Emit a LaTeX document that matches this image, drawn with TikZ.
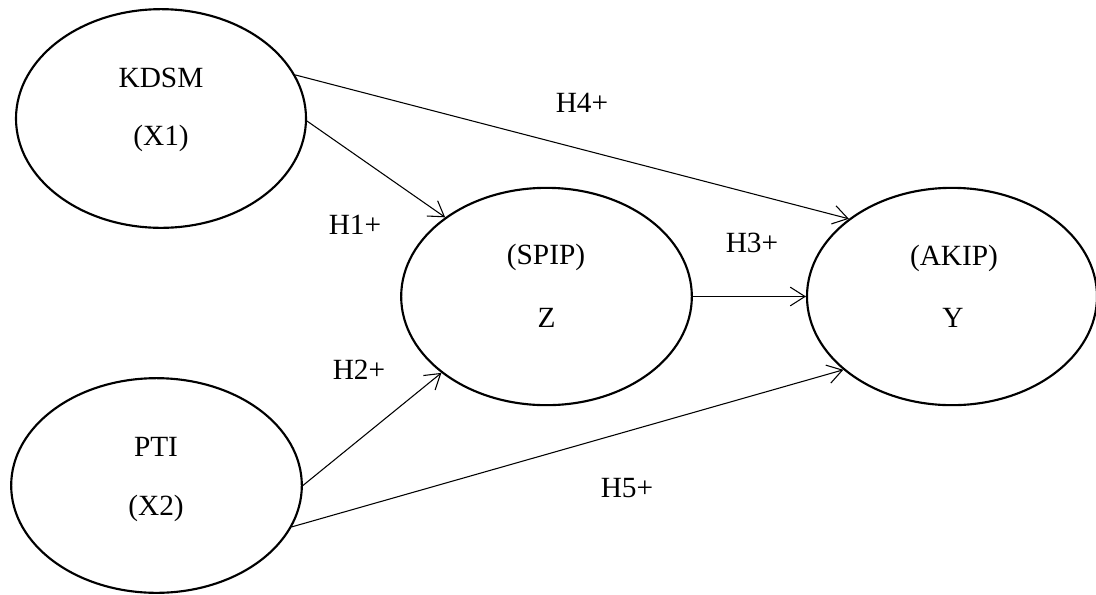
\documentclass[tikz,border=0pt]{standalone}
\usepackage{fontspec}
\setmainfont{Liberation Serif}
\usetikzlibrary{shapes.geometric,arrows.meta}
\tikzset{
  var/.style={draw=black, line width=1.6pt, ellipse, inner sep=0pt},
  txt/.style={inner sep=0pt, anchor=base, font=\fontsize{22}{26}\selectfont},
  link/.style={draw=black, line width=0.8pt, -{Straight Barb[length=11pt,width=14pt,line width=0.8pt]}},
}
\begin{document}
\begin{tikzpicture}[x=0.75pt,y=-0.75pt]
\useasboundingbox (0,0) rectangle (1096,594);
% ellipses
\node[var, minimum width=217.5pt, minimum height=164pt] (kdsm) at (161,118.5) {};
\node[var, minimum width=218pt, minimum height=161pt] (pti) at (156.5,485.5) {};
\node[var, minimum width=218pt, minimum height=163pt] (spip) at (546.5,296.5) {};
\node[var, minimum width=217.5pt, minimum height=163pt] (akip) at (952,296.5) {};
% texts
\node[txt] (t1a) at (161,87) {KDSM};
\node[txt] (t1b) at (161,145.5) {(X1)};
\node[txt] (t2a) at (156,456) {PTI};
\node[txt] (t2b) at (156,515) {(X2)};
\node[txt] (t3a) at (546,264) {(SPIP)};
\node[txt] (t3b) at (546.5,327) {Z};
\node[txt] (t4a) at (954,265) {(AKIP)};
\node[txt] (t4b) at (953,327) {Y};
% connectors
\draw[link] (kdsm.-1) -- (spip.142.8);
\draw[link] (kdsm.18.4) -- (akip.143);
\draw[link] (spip.0) -- (akip.180);
\draw[link] (pti.0) -- (spip.216.8);
\draw[link] (pti.-17) -- (akip.214.5);
% labels
\node[txt] (h4) at (582,112) {H4+};
\node[txt] (h1) at (355,234) {H1+};
\node[txt] (h3) at (752,252) {H3+};
\node[txt] (h2) at (359,379) {H2+};
\node[txt] (h5) at (627,497) {H5+};
\end{tikzpicture}
\end{document}
